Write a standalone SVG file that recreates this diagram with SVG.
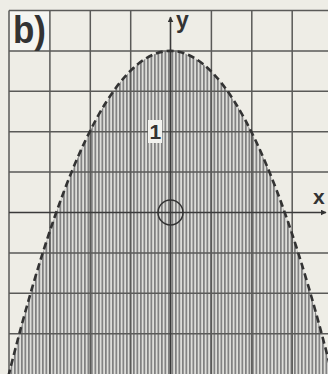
<svg xmlns="http://www.w3.org/2000/svg" width="328" height="374" viewBox="0 0 328 374">
<defs>
<style>
.grid{stroke:#5a5a58;stroke-width:1.5;fill:none}
.axis{stroke:#3a3a3a;stroke-width:1.6;fill:none}
.curve{stroke:#333;stroke-width:2.6;fill:none;stroke-dasharray:7 4}
.lbl{font-family:"Liberation Sans",Arial,sans-serif;fill:#333}
</style>
<pattern id="hatch" patternUnits="userSpaceOnUse" width="3.5" height="10">
<rect width="3.5" height="10" fill="#dededa"/>
<rect x="0" width="1.7" height="10" fill="#808080"/>
</pattern>
<marker id="arr" viewBox="0 0 10 10" refX="9" refY="5" markerWidth="6" markerHeight="6" orient="auto" markerUnits="userSpaceOnUse">
<path d="M0,0 L10,5 L0,10 z" fill="#333"/>
</marker>
</defs>
<rect width="328" height="374" fill="#eeede6"/>
<rect x="9" y="10.5" width="41" height="40.5" fill="#f5f5f1"/>
<g id="region">
<path d="M0.5,408.6 Q170.5,-306.8 340.5,408.6 Z" fill="url(#hatch)"/>
</g>
<g id="grid">
<path class="grid" d="M9,10.5V374 M49.9,10.5V374 M90.3,10.5V374 M130.7,10.5V374 M211.4,10.5V374 M251.8,10.5V374 M292.2,10.5V374"/>
<path class="grid" d="M9,10.5H328 M9,51H328 M9,91.3H328 M9,131.7H328 M9,172.1H328 M9,252.9H328 M9,293.3H328 M9,333.7H328"/>
</g>
<g id="connectors">
<line class="axis" x1="170.5" y1="374" x2="170.5" y2="17" marker-end="url(#arr)"/>
<line class="axis" x1="9" y1="212.5" x2="326" y2="212.5" marker-end="url(#arr)"/>
<path class="curve" d="M0.5,408.6 Q170.5,-306.8 340.5,408.6"/>
</g>
<g id="origin">
<circle cx="170.5" cy="212.5" r="12.5" fill="none" stroke="#333" stroke-width="1.5"/>
</g>
<g id="labels">
<text class="lbl" x="13" y="43" font-size="38" font-weight="bold" textLength="33" lengthAdjust="spacingAndGlyphs">b)</text>
<text class="lbl" x="176" y="28" font-size="23" font-weight="bold">y</text>
<text class="lbl" x="313" y="204" font-size="21" font-weight="bold">x</text>
<rect x="148" y="120" width="14" height="23" fill="#f3f3ef"/>
<text class="lbl" x="149.5" y="139" font-size="21" font-weight="bold">1</text>
</g>
</svg>
